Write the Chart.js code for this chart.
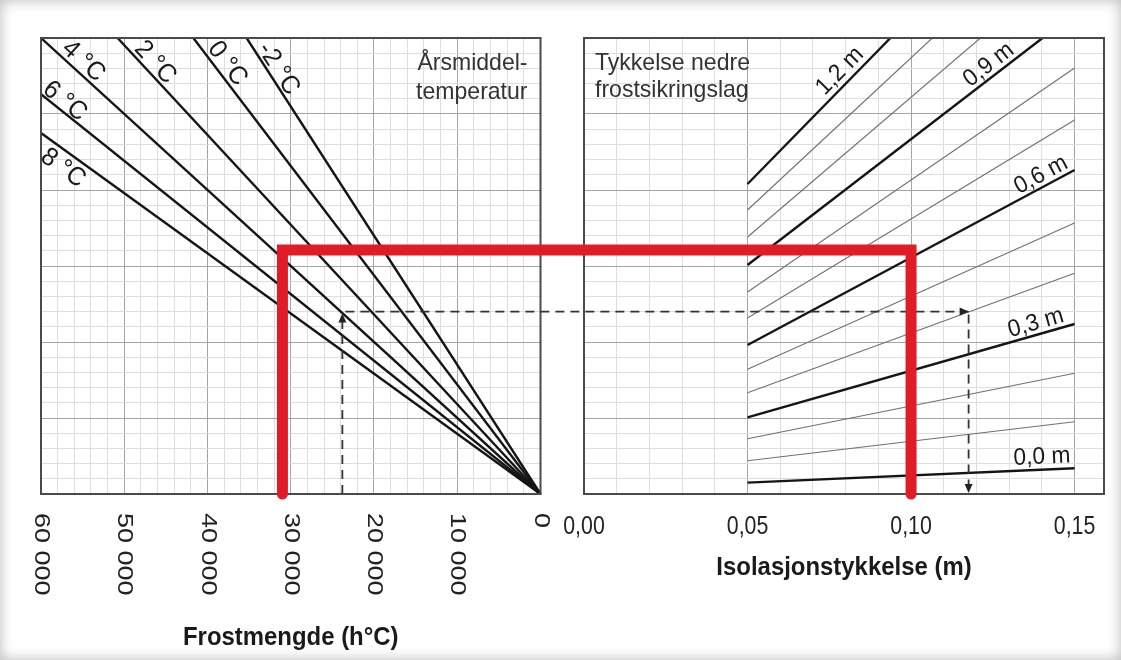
<!DOCTYPE html>
<html lang="no">
<head>
<meta charset="utf-8">
<title>Frostmengde og isolasjonstykkelse</title>
<script src="https://cdn.jsdelivr.net/npm/chart.js@4.4.1/dist/chart.umd.min.js"></script>
<style>
  html, body { margin: 0; padding: 0; background: #fff; }
  #ramme { position: relative; width: 1121px; height: 660px; box-shadow: inset 0 0 14px rgba(0, 0, 0, 0.28); }
  #nomogram { position: absolute; left: 0; top: 0; }
</style>
</head>
<body>
<div id="ramme"><canvas id="nomogram" width="1121" height="660"></canvas></div>
<script>
// Data lest av figuren (nomogram: frostmengde -> isolasjonstykkelse)

// Venstre del: årsmiddeltemperatur, linjer fra (0, 0) til endepunkt
const tempLabels = ['-2 °C', '0 °C', '2 °C', '4 °C', '6 °C', '8 °C'];
const tempEndFrost = [35300, 41700, 50800, 60000, 60000, 60000];
const tempEndY = [6, 6, 6, 6, 5.26, 4.75];

// Høyre del: tykkelse nedre frostsikringslag
const thickLabels = ['0,0 m', '0,1 m', '0,2 m', '0,3 m', '0,4 m', '0,5 m', '0,6 m',
                     '0,7 m', '0,8 m', '0,9 m', '1,0 m', '1,1 m', '1,2 m'];
const thickStartX = 0.05;
const thickStartY = [0.149, 0.438, 0.728, 1.009, 1.333, 1.641, 1.961, 2.316, 2.658, 3.013, 3.382, 3.737, 4.079];
const thickEndX = [0.15, 0.15, 0.15, 0.15, 0.15, 0.15, 0.15, 0.15, 0.15, 0.1402, 0.1212, 0.1065, 0.0937];
const thickEndY = [0.338, 0.951, 1.588, 2.237, 2.904, 3.566, 4.263, 4.921, 5.605, 6, 6, 6, 6];

// Aksemerker
const frostTicks = [60000, 50000, 40000, 30000, 20000, 10000, 0];
const frostTickLabels = ['60 000', '50 000', '40 000', '30 000', '20 000', '10 000', '0'];
const thickTicks = [0, 0.05, 0.10, 0.15];
const thickTickLabels = ['0,00', '0,05', '0,10', '0,15'];

// Eksempel (rød) og stiplet avlesning
const redFrost = 31000, redY = 3.21, redThick = 0.10;
const dashFrost = 23800, dashY = 2.40, dashThick = 0.1176;

// ---- layout ----
const PLOT = { left: 41, top: 38, right: 1104, bottom: 494 };
const LEFT_PANEL_RIGHT = 540.5;
const RIGHT_PANEL_LEFT = 584;
const FROST_MAX = 60000;
const THICK_MAX = 0.159;
const Y_MAX = 6;

// begge x-akser dekker hele plottbredden, hver panel bruker sin del
const frostMin = FROST_MAX - FROST_MAX * (PLOT.right - PLOT.left) / (LEFT_PANEL_RIGHT - PLOT.left);
const thickMin = -THICK_MAX * (RIGHT_PANEL_LEFT - PLOT.left) / (PLOT.right - RIGHT_PANEL_LEFT);

const MAJOR = '#a4a4a4';
const MINOR = '#dedede';
const FONT = '"Liberation Sans", Arial, sans-serif';

function steps(n, f) {
    const out = [];
    for (let i = 0; i <= n; i++) out.push({ value: f(i) });
    return out;
}

const datasets = [];
tempLabels.forEach((lab, i) => {
    datasets.push({
        label: lab, xAxisID: 'xL', yAxisID: 'y',
        data: [{ x: 0, y: 0 }, { x: tempEndFrost[i], y: tempEndY[i] }],
        borderColor: '#151515', borderWidth: 2.4, pointRadius: 0
    });
});
thickLabels.forEach((lab, i) => {
    const bold = i % 3 === 0;
    datasets.push({
        label: lab, xAxisID: 'xR', yAxisID: 'y',
        data: [{ x: thickStartX, y: thickStartY[i] }, { x: thickEndX[i], y: thickEndY[i] }],
        borderColor: bold ? '#151515' : '#707070', borderWidth: bold ? 2.4 : 1.1, pointRadius: 0
    });
});

// tekst med mulighet for skjev skalering (originalen er litt sammenpresset)
function tekst(ctx, str, x, y, o) {
    ctx.save();
    ctx.translate(x, y);
    ctx.rotate(o.vinkel || 0);
    ctx.scale(o.sx || 1, o.sy || 1);
    ctx.font = o.font;
    ctx.fillStyle = o.farge || '#222';
    ctx.textAlign = o.align || 'center';
    ctx.textBaseline = o.baseline || 'middle';
    ctx.fillText(str, 0, 0);
    ctx.restore();
}

function pil(ctx, x, y, dx, dy) {
    const len = 9, half = 4;
    const bx = x - dx * len, by = y - dy * len;
    ctx.beginPath();
    ctx.moveTo(x, y);
    ctx.lineTo(bx - dy * half, by + dx * half);
    ctx.lineTo(bx + dy * half, by - dx * half);
    ctx.closePath();
    ctx.fill();
}

// etikett langs en linje: fra endepunkt 'a', retning mot 'b'
function linjeTekst(ctx, str, a, b, along, perp, size) {
    const dx = b.x - a.x, dy = b.y - a.y;
    const len = Math.hypot(dx, dy);
    const ux = dx / len, uy = dy / len;
    const ang = Math.atan2(uy, ux);
    const nx = Math.sin(ang), ny = -Math.cos(ang);
    tekst(ctx, str, a.x + ux * along + nx * perp, a.y + uy * along + ny * perp,
        { vinkel: ang, font: size + 'px ' + FONT, sx: 0.95, farge: '#1a1a1a' });
}

const tempLabelPos = [[43, 10], [41, 11.5], [43.5, 11], [47, 11.5], [23, 9.5], [38.5, -15.5]];
const thickLabelPos = { 0: [-32, 12.7], 3: [-37, 11.5], 6: [-32, 11.5], 9: [-59, 11.6], 12: [-59, 13] };

const pynt = {
    id: 'pynt',
    beforeDatasetsDraw(chart) {
        const { ctx, scales } = chart;
        const xL = scales.xL, xR = scales.xR, y = scales.y;
        ctx.save();
        ctx.fillStyle = '#fff';
        const g0 = xL.getPixelForValue(0), g1 = xR.getPixelForValue(0);
        ctx.fillRect(g0 + 1, y.getPixelForValue(Y_MAX) - 2, g1 - g0 - 2, y.getPixelForValue(0) - y.getPixelForValue(Y_MAX) + 4);
        ctx.restore();
    },
    afterDatasetsDraw(chart) {
        const { ctx, scales } = chart;
        const xL = scales.xL, xR = scales.xR, y = scales.y;
        const top = y.getPixelForValue(Y_MAX), bot = y.getPixelForValue(0);
        const l0 = xL.getPixelForValue(FROST_MAX), l1 = xL.getPixelForValue(0);
        const r0 = xR.getPixelForValue(0), r1 = xR.getPixelForValue(THICK_MAX);

        ctx.save();
        // rammer
        ctx.strokeStyle = '#4a4a4a';
        ctx.lineWidth = 2;
        ctx.strokeRect(l0, top, l1 - l0, bot - top);
        ctx.strokeRect(r0, top, r1 - r0, bot - top);

        // aksetall
        frostTicks.forEach((v, i) => {
            tekst(ctx, frostTickLabels[i], xL.getPixelForValue(v), bot + 19,
                { vinkel: Math.PI / 2, font: '27px ' + FONT, align: 'left', sy: 0.8 });
        });
        thickTicks.forEach((v, i) => {
            tekst(ctx, thickTickLabels[i], xR.getPixelForValue(v), bot + 33,
                { font: '26px ' + FONT, sx: 0.82 });
        });

        // aksetitler
        tekst(ctx, 'Frostmengde (h°C)', (l0 + l1) / 2, 645,
            { font: 'bold 26px ' + FONT, sx: 0.92, baseline: 'alphabetic', farge: '#1a1a1a' });
        tekst(ctx, 'Isolasjonstykkelse (m)', (r0 + r1) / 2, 575,
            { font: 'bold 26px ' + FONT, sx: 0.92, baseline: 'alphabetic', farge: '#1a1a1a' });

        // forklaringer i panelene
        tekst(ctx, 'Årsmiddel-', l1 - 13, top + 32, { font: '24px ' + FONT, sx: 0.96, align: 'right', baseline: 'alphabetic', farge: '#333' });
        tekst(ctx, 'temperatur', l1 - 13, top + 61, { font: '24px ' + FONT, sx: 0.96, align: 'right', baseline: 'alphabetic', farge: '#333' });
        tekst(ctx, 'Tykkelse nedre', r0 + 11, top + 32, { font: '24px ' + FONT, sx: 0.96, align: 'left', baseline: 'alphabetic', farge: '#333' });
        tekst(ctx, 'frostsikringslag', r0 + 11, top + 59, { font: '24px ' + FONT, sx: 0.96, align: 'left', baseline: 'alphabetic', farge: '#333' });

        // etiketter på linjene
        tempLabels.forEach((lab, i) => {
            const a = { x: xL.getPixelForValue(tempEndFrost[i]), y: y.getPixelForValue(tempEndY[i]) };
            const b = { x: xL.getPixelForValue(0), y: y.getPixelForValue(0) };
            linjeTekst(ctx, lab, a, b, tempLabelPos[i][0], tempLabelPos[i][1], 26);
        });
        Object.keys(thickLabelPos).forEach(k => {
            const i = +k;
            const a = { x: xR.getPixelForValue(thickEndX[i]), y: y.getPixelForValue(thickEndY[i]) };
            const s = { x: xR.getPixelForValue(thickStartX), y: y.getPixelForValue(thickStartY[i]) };
            const b = { x: 2 * a.x - s.x, y: 2 * a.y - s.y };
            linjeTekst(ctx, thickLabels[i], a, b, thickLabelPos[k][0], thickLabelPos[k][1], 24);
        });

        // stiplet avlesning
        const dL = xL.getPixelForValue(dashFrost), dR = xR.getPixelForValue(dashThick), dY = y.getPixelForValue(dashY);
        ctx.strokeStyle = '#333';
        ctx.fillStyle = '#222';
        ctx.lineWidth = 1.8;
        ctx.setLineDash([9, 6]);
        ctx.beginPath();
        ctx.moveTo(dL, bot);
        ctx.lineTo(dL, dY + 3);
        ctx.moveTo(dL + 3, dY);
        ctx.lineTo(dR, dY);
        ctx.moveTo(dR, dY + 3);
        ctx.lineTo(dR, bot);
        ctx.stroke();
        ctx.setLineDash([]);
        pil(ctx, dL, dY + 2, 0, -1);
        pil(ctx, dR, dY, 1, 0);
        pil(ctx, dR, bot - 1, 0, 1);

        // rødt eksempel
        const rL = xL.getPixelForValue(redFrost), rR = xR.getPixelForValue(redThick), rY = y.getPixelForValue(redY);
        ctx.strokeStyle = 'rgb(224, 28, 38)';
        ctx.lineWidth = 11;
        ctx.lineCap = 'round';
        ctx.lineJoin = 'miter';
        ctx.beginPath();
        ctx.moveTo(rL, bot);
        ctx.lineTo(rL, rY);
        ctx.lineTo(rR, rY);
        ctx.lineTo(rR, bot);
        ctx.stroke();
        ctx.restore();
    }
};

function gridFarge(major) {
    return c => (major(c.tick.value) ? MAJOR : MINOR);
}

new Chart(document.getElementById('nomogram').getContext('2d'), {
    type: 'line',
    data: { datasets: datasets },
    options: {
        responsive: false,
        animation: false,
        events: [],
        layout: { padding: { left: PLOT.left, top: PLOT.top, right: 1121 - PLOT.right, bottom: 660 - PLOT.bottom } },
        plugins: { legend: { display: false }, tooltip: { enabled: false } },
        elements: { line: { tension: 0 } },
        scales: {
            xL: {
                type: 'linear', position: 'bottom', reverse: true, min: frostMin, max: FROST_MAX,
                afterBuildTicks: s => { s.ticks = steps(30, i => i * 2000); },
                ticks: { display: false },
                border: { display: false },
                grid: { drawTicks: false, lineWidth: 1, color: gridFarge(v => v % 10000 === 0) }
            },
            xR: {
                type: 'linear', position: 'bottom', min: thickMin, max: THICK_MAX,
                afterBuildTicks: s => { s.ticks = steps(15, i => i / 100); },
                ticks: { display: false },
                border: { display: false },
                grid: { drawTicks: false, lineWidth: 1, color: gridFarge(v => Math.round(v * 100) % 5 === 0) }
            },
            y: {
                type: 'linear', position: 'left', min: 0, max: Y_MAX,
                afterBuildTicks: s => { s.ticks = steps(30, i => i / 5); },
                ticks: { display: false },
                border: { display: false },
                grid: { drawTicks: false, lineWidth: 1, color: gridFarge(v => Math.abs(v - Math.round(v)) < 1e-6) }
            }
        }
    },
    plugins: [pynt]
});
</script>
</body>
</html>
